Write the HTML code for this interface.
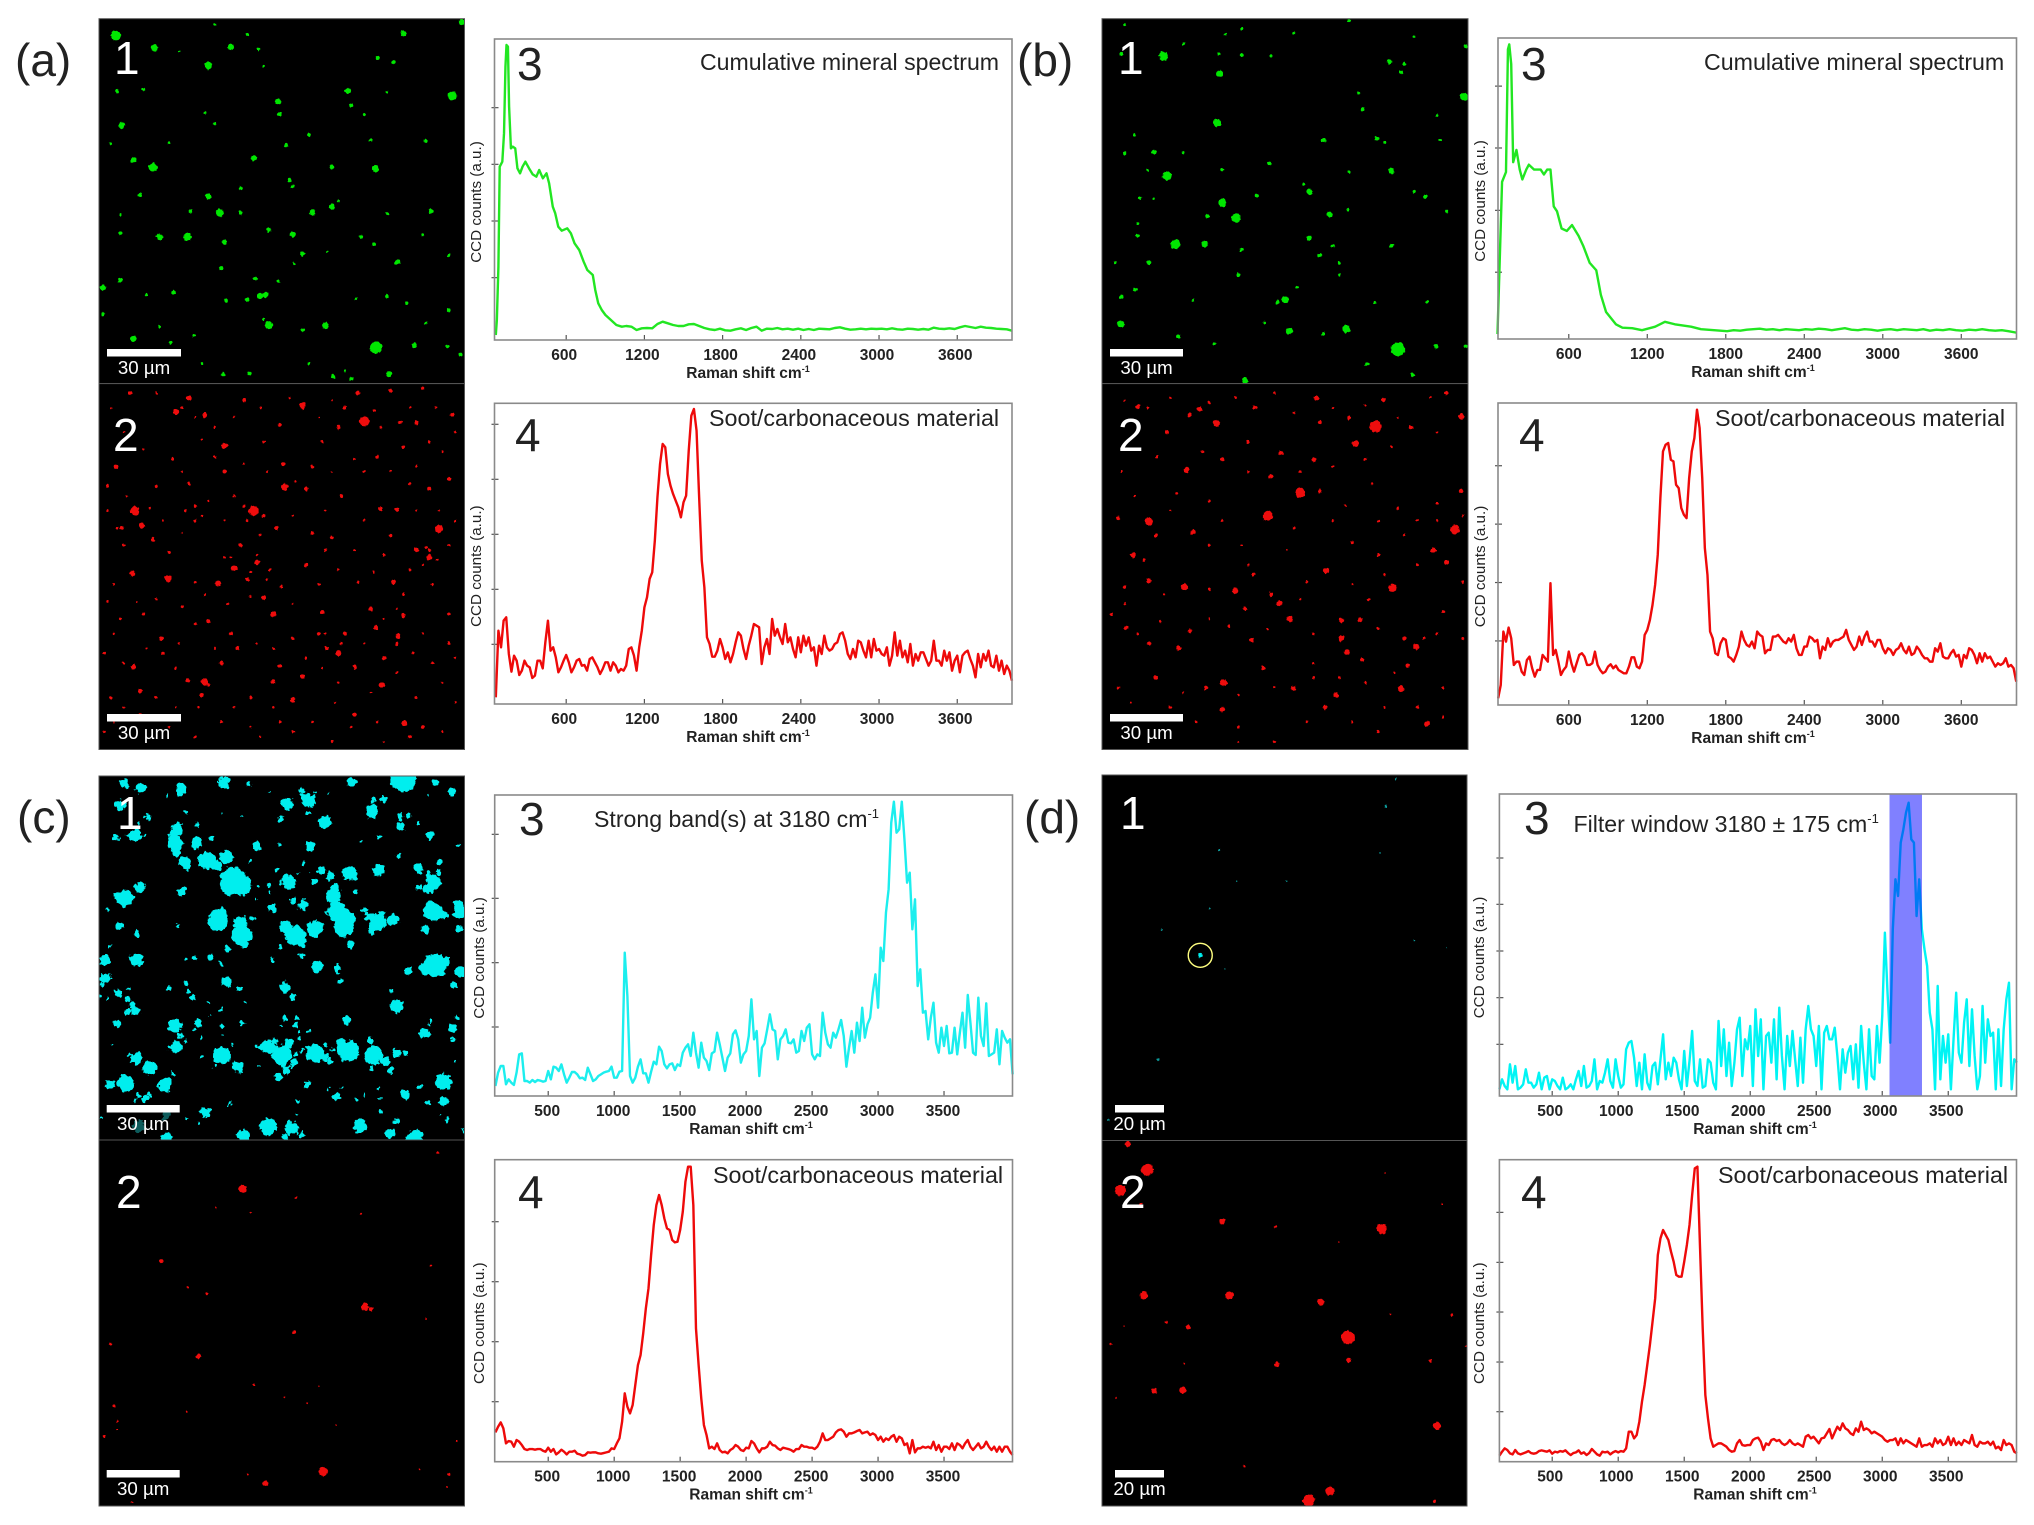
<!DOCTYPE html>
<html lang="en">
<head>
<meta charset="utf-8">
<title>Raman maps and spectra</title>
<style>
html,body{margin:0;padding:0;background:#fff;}
svg{display:block;font-family:"Liberation Sans",Arial,sans-serif;filter:blur(0.35px);}
</style>
</head>
<body>
<svg id="fig" xmlns="http://www.w3.org/2000/svg" width="2034" height="1525" viewBox="0 0 2034 1525">
<defs>
<filter id="rough-large" filterUnits="userSpaceOnUse" x="0" y="0" width="2034" height="1525">
<feTurbulence type="fractalNoise" baseFrequency="0.22" numOctaves="2" seed="4"/>
<feDisplacementMap in="SourceGraphic" scale="7" xChannelSelector="R" yChannelSelector="G"/>
</filter>
<filter id="rough-small" filterUnits="userSpaceOnUse" x="0" y="0" width="2034" height="1525">
<feTurbulence type="fractalNoise" baseFrequency="0.3" numOctaves="2" seed="9"/>
<feDisplacementMap in="SourceGraphic" scale="3" xChannelSelector="R" yChannelSelector="G"/>
</filter>
</defs>
<rect x="0" y="0" width="2034" height="1525" fill="#ffffff"/>
<text x="15" y="76" font-size="46" fill="#222">(a)</text>
<text x="1017" y="76" font-size="46" fill="#222">(b)</text>
<text x="17" y="833" font-size="46" fill="#222">(c)</text>
<text x="1024" y="833" font-size="46" fill="#222">(d)</text>
</svg>
<script>
/* ---------- spectrum data: counts are arbitrary units ---------- */
const xTicksAB=[600,1200,1800,2400,3000,3600];
const xTicksCD=[500,1000,1500,2000,2500,3000,3500];

const a3Shifts=[60,68,80,90,110,123,134,142,153,162,176,190,209,226,246,265,287,315,343,371,393,421,449,469,497,516,539,566,608,636,664,700,734,762,804,823,846,873,901,943,985,1027,1060,1100,1140,1180,1220,1260,1300,1340,1380,1420,1460,1500,1540,1580,1620,1660,1700,1740,1780,1820,1860,1900,1940,1980,2020,2060,2100,2140,2180,2220,2260,2300,2340,2380,2420,2460,2500,2540,2580,2620,2660,2700,2740,2780,2820,2860,2900,2940,2980,3020,3060,3100,3140,3180,3220,3260,3300,3340,3380,3420,3460,3500,3540,3580,3620,3660,3700,3740,3780,3820,3860,3900,3940,3980,4020];
const a3Counts=[15,60,220,520,535,620,820,885,880,700,575,580,575,515,500,520,535,515,497,490,510,485,500,470,400,380,340,328,335,320,290,270,235,210,195,150,110,90,75,60,45,40,42,40,30,35,36,35,48,55,50,45,42,42,47,48,42,36,32,30,34,29,28,32,35,30,36,40,28,34,33,36,32,34,31,34,30,33,30,34,33,32,36,38,34,31,32,34,32,34,33,34,32,35,32,31,34,33,31,33,31,37,34,33,35,33,38,42,39,36,40,37,36,34,33,32,28];
const a3YTicks=[697,527,357,187];

const a4Start=60;
const a4Step=20;
const a4Counts=[20,220,170,250,260,150,97,145,130,87,100,130,115,110,78,85,130,130,107,185,250,160,170,140,95,110,130,147,125,95,110,130,135,115,117,100,135,140,125,110,90,105,125,125,100,125,115,95,105,100,115,165,170,145,100,170,220,290,320,375,395,490,620,720,780,770,690,655,630,610,590,560,605,625,760,865,885,820,620,430,350,200,180,142,142,160,195,170,135,155,125,150,185,215,205,165,135,175,205,240,235,230,120,170,195,150,255,205,225,200,180,240,185,200,165,140,200,155,205,175,200,160,170,115,175,150,205,170,160,165,180,185,210,215,190,150,135,165,140,190,185,160,140,190,140,195,160,165,150,145,170,115,145,215,145,190,140,160,125,180,115,150,130,155,155,135,115,130,190,130,130,115,160,130,155,100,130,145,95,145,155,160,135,115,80,150,110,150,130,160,115,110,145,100,130,90,115,100,70];
const a4YTicks=[839,674,509,344,179];

const b3Shifts=[55,70,90,120,135,145,160,175,200,225,245,275,295,335,385,410,435,460,485,510,545,585,625,675,710,760,810,845,885,960,1010,1085,1160,1260,1335,1410,1535,1610,1760,1810,1860,1910,1960,2010,2060,2110,2160,2210,2260,2310,2360,2410,2460,2510,2560,2610,2660,2710,2760,2810,2860,2910,2960,3010,3060,3110,3160,3210,3260,3310,3360,3410,3460,3510,3560,3610,3660,3710,3760,3810,3860,3910,3960,4020];
const b3Counts=[10,140,320,340,590,600,560,360,385,345,325,345,355,345,345,335,345,345,270,260,225,220,232,210,190,155,140,90,55,30,23,22,18,25,35,30,25,20,17,16,18,17,19,20,21,19,20,18,20,19,18,20,19,21,20,18,20,22,19,18,20,19,17,19,20,18,20,19,18,20,17,19,18,20,18,17,19,18,20,18,17,18,16,13];
const b3YTicks=[515,389,262,136];

const b4Start=60;
const b4Step=20;
const b4Counts=[20,60,220,190,232,200,120,130,130,100,90,135,145,110,85,105,105,150,140,130,365,150,165,130,90,105,115,160,125,100,125,150,155,145,120,120,125,160,120,105,95,100,115,122,110,118,105,100,95,95,115,143,143,115,110,130,210,225,255,300,360,450,620,760,780,785,735,730,660,650,590,570,560,680,760,800,885,830,680,470,390,220,200,155,150,185,200,195,145,140,130,150,175,220,195,180,175,190,170,220,210,205,155,165,165,205,205,210,200,190,185,200,190,210,170,150,150,175,175,205,200,190,195,140,175,165,200,175,190,195,195,200,205,225,195,180,165,175,205,180,205,220,190,190,175,195,195,170,155,170,165,150,165,170,185,165,155,175,150,155,175,165,150,140,140,130,130,170,160,185,145,140,140,155,165,145,150,115,150,140,170,165,150,125,155,130,155,140,145,130,115,125,120,125,140,115,120,110,70];
const b4YTicks=[717,542,367,192];

const c3Start=100;
const c3Step=20;
const c3Counts=[30,70,90,90,35,50,40,33,70,125,128,45,45,40,48,42,48,46,43,45,75,50,88,85,75,95,65,40,55,72,72,65,53,55,48,85,65,45,50,60,65,70,73,75,88,55,55,73,75,430,300,60,40,55,88,110,68,68,40,73,103,95,148,135,95,83,95,98,78,95,90,130,145,155,120,190,130,85,160,115,105,78,128,133,190,155,115,75,115,128,185,197,170,100,125,135,180,290,170,195,60,145,158,200,245,200,195,110,170,180,200,160,158,170,130,135,195,165,205,215,125,110,125,120,250,190,155,145,190,175,200,228,180,88,145,195,130,220,165,265,175,215,235,310,365,265,445,405,550,620,820,883,790,800,883,770,640,670,500,590,330,380,250,255,170,235,280,160,130,205,150,210,128,130,205,125,190,250,145,303,220,130,123,295,180,150,278,120,125,130,200,95,195,175,160,170,65];
const c3YTicks=[785,593,400,207];

const c4Start=100;
const c4Step=20;
const c4Counts=[88,105,118,100,55,62,60,45,65,60,50,38,35,38,38,36,38,38,33,30,42,30,38,22,28,36,30,22,30,30,33,24,22,18,20,28,27,28,28,25,24,26,28,30,40,38,55,70,120,205,165,145,170,230,290,320,385,460,520,620,710,770,800,770,730,700,695,665,658,660,695,750,840,885,885,770,400,290,190,110,80,40,45,38,55,35,28,30,25,35,40,50,45,35,32,42,40,62,55,40,28,40,40,45,60,50,48,40,35,42,40,38,35,30,38,38,50,45,45,42,42,38,45,60,85,65,65,70,75,88,95,97,90,75,85,85,88,92,95,85,88,90,80,85,80,65,75,60,70,65,75,80,60,75,70,50,55,25,65,28,40,40,45,42,45,40,60,35,50,30,45,45,38,55,35,55,50,40,55,65,45,35,45,55,40,45,60,45,35,45,30,45,30,45,45,30,20];
const c4YTicks=[720,540,360,180];

const d3Start=100;
const d3Step=20;
const d3Counts=[20,50,30,20,95,40,90,20,25,35,80,40,40,25,35,70,20,55,60,20,50,45,30,20,55,20,25,35,20,50,75,30,90,25,30,45,110,20,45,40,70,110,45,25,110,60,25,35,140,160,165,115,30,100,20,125,40,20,90,100,35,110,185,50,100,60,115,100,50,20,135,30,105,195,45,30,110,25,30,110,100,40,20,225,90,200,60,160,30,100,200,235,60,170,140,210,30,260,120,230,20,180,190,100,230,50,265,120,20,180,90,195,110,30,175,40,200,270,200,180,90,210,20,190,210,170,170,205,120,20,140,70,130,150,50,155,25,210,100,20,200,60,50,210,100,240,490,310,160,500,650,600,760,800,850,880,770,760,540,650,500,440,390,250,200,20,330,50,180,100,185,20,170,310,130,100,220,290,90,260,120,20,60,270,100,230,180,190,20,200,30,200,290,340,20,110,100];
const d3YTicks=[714,575,435,295,155];
const d3FilterWindow=[3055,3301];

const d4Start=100;
const d4Step=20;
const d4Counts=[18,30,40,35,25,22,35,25,22,25,28,32,26,24,26,32,34,32,30,34,24,30,28,32,30,34,26,20,26,28,34,24,28,20,26,38,30,22,18,30,28,30,22,28,32,28,32,30,40,90,90,70,80,120,180,230,290,350,420,490,620,670,695,680,665,630,600,560,555,555,600,650,710,800,880,885,640,400,200,130,70,45,50,55,55,50,45,35,30,32,55,65,50,48,50,50,65,70,72,60,35,55,50,65,68,62,65,55,50,55,65,55,50,55,50,45,75,80,70,75,65,55,70,72,85,98,70,88,105,95,115,100,95,85,80,100,90,120,95,100,95,85,90,85,80,75,65,60,65,65,70,50,70,55,65,60,55,50,45,70,45,50,50,55,45,70,55,65,50,55,75,50,70,50,60,50,65,60,55,80,50,45,60,55,55,60,50,60,40,45,35,65,50,55,50,30,25];
const d4YTicks=[748,598,449,299,150];

/* ---------- particle maps: [field x, field y, radius] as located in each micrograph ---------- */
const a1Particles=[[178,72,5],[237,97,3.5],[355,96,3],[620,68,3],[320,133,4],[535,185,3],[695,195,4.5],[427,207,3],[187,255,3],[205,325,3],[235,340,4.5],[390,322,3],[577,343,3.5],[338,433,4],[370,433,2],[480,432,3],[510,421,3],[662,430,2.5],[245,482,3.5],[288,482,4],[345,493,2.5],[413,468,2.5],[450,477,3],[465,517,2.5],[555,482,2],[575,497,2],[613,533,2],[392,567,2],[158,585,3],[185,570,2.5],[267,595,2],[400,602,3],[408,600,3],[413,662,4],[380,610,2],[347,612,2],[500,663,3.5],[465,672,2],[578,708,6],[637,703,2.5],[205,690,3],[598,762,3],[383,760,2],[512,766,2],[540,772,2],[320,400,3],[293,430,2],[215,397,2],[185,437,1.5],[185,475,2],[440,295,2],[655,287,2],[570,285,1.5],[475,275,2],[430,232,2],[315,230,1.5],[330,252,1.5],[260,290,1.5],[170,292,1.5],[220,182,1.5],[180,185,2],[405,135,1.5],[380,70,1.5],[330,50,1.5],[275,105,1],[397,100,1.5],[580,118,2],[605,127,2],[540,215,2],[595,187,1.5],[560,233,1.5],[710,45,3],[510,340,2],[445,367,2],[450,380,2],[370,383,2],[520,410,1.5],[595,435,1.5],[650,478,1.5],[690,520,1.5],[610,535,2],[503,512,1.5],[340,547,2],[452,537,1.5],[428,573,1.5],[547,608,1.5],[595,603,1.5],[625,617,1.5],[690,632,2],[655,657,1.5],[688,706,2],[708,722,2],[262,697,1.5],[245,665,1.5],[298,683,1.5],[158,640,2],[225,600,1.5],[405,650,1.5],[310,740,1.5],[343,762,2],[475,740,1.5],[530,755,1.5]];
const a2Particles=[[270,838,3],[560,858,5],[465,825,3],[530,830,2],[345,908,3],[390,1040,5],[207,1040,4.5],[218,1070,3],[187,1075,2],[675,1077,4],[438,992,3.5],[470,995,2],[660,995,2],[690,975,2],[435,945,2],[360,1157,3],[258,1178,3.5],[335,1188,3],[395,1145,2.5],[660,1135,3],[203,1168,3],[405,1217,2],[420,1250,3],[570,1240,2],[620,1253,2.5],[495,1247,2],[578,1278,2.5],[612,1295,2.5],[610,1312,2],[520,1330,3],[502,1320,2],[248,1300,2],[315,1388,3.5],[288,1385,2],[215,1407,2.5],[205,1358,2.5],[587,1395,3],[622,1472,3],[450,1425,2.5],[465,1377,2],[430,1356,2],[420,1388,2.5],[545,1358,2],[370,1110,2],[345,1135,1.5],[310,1050,1.5],[300,1030,1.5],[235,1098,2],[180,1075,1.5],[165,990,1.5],[265,935,2],[178,950,2],[200,800,2],[290,810,2.5],[315,845,2.5],[375,815,2],[430,865,2],[465,830,2],[495,900,1.5],[520,870,2],[550,800,2],[600,795,2],[640,860,2],[615,860,2],[695,845,2],[650,790,1.5],[580,930,1.5],[630,985,1.5],[585,1035,2],[610,1037,2],[525,1010,1.5],[480,1085,1.5],[510,1095,1.5],[425,1075,2],[640,1120,2],[672,1140,1.5],[605,1185,2],[550,1185,1.5],[500,1120,1.5],[470,1150,2],[432,1195,1.5],[380,1180,2],[300,1185,1.5],[260,1125,1.5],[190,1110,1.5],[175,1190,1.5],[665,1190,1.5],[590,1130,1.5],[545,1120,1.5],[220,1250,1.5],[185,1260,1.5],[160,1330,1.5],[300,1270,1.5],[355,1290,2],[365,1320,2],[320,1265,2],[250,1330,1.5],[270,1360,1.5],[190,1350,1.5],[170,1420,1.5],[240,1420,1.5],[310,1415,2],[340,1350,2],[385,1420,1.5],[430,1470,1.5],[450,1490,1.5],[545,1455,2],[580,1470,1.5],[640,1420,1.5],[665,1350,1.5],[650,1290,1.5],[690,1310,1.5],[590,1340,2],[530,1290,2],[490,1290,1.5],[470,1340,1.5],[450,1300,1.5],[650,1480,1.5],[630,1500,2],[510,1510,1.5],[400,1500,1.5],[340,1470,1.5],[215,1455,1.5],[175,1470,1],[300,1500,1.5],[700,1430,1.5],[620,1210,1.5],[690,1250,1.5],[660,1120,1.5],[345,960,2],[405,900,1.5],[330,930,1.5],[290,985,1.5],[240,990,1.5],[480,950,1.5],[560,960,1.5],[620,910,1.5],[660,900,1.5],[300,1060,1.5],[285,1040,1.5],[415,1160,1.5],[380,1060,1.5],[360,1010,1.5],[600,1090,1.5],
[240,800,1.2],[280,830,1.3],[300,850,1.2],[330,870,1.2],[360,850,1.2],[400,830,1.2],[445,810,1.2],[490,850,1.2],[510,815,1.2],[575,835,1.4],[585,870,1.2],[630,830,1.2],[670,830,1.2],[700,880,1.2],[680,920,1.2],[640,950,1.2],[600,960,1.2],[545,935,1.2],[510,960,1.2],[455,980,1.2],[410,960,1.2],[375,945,1.2],[310,895,1.2],[280,960,1.2],[220,915,1.2],[190,880,1.2],[170,830,1.2],[165,1040,1.2],[195,1010,1.2],[230,1035,1.2],[250,1060,1.2],[280,1085,1.2],[320,1020,1.2],[345,1060,1.2],[375,1030,1.4],[405,1050,1.4],[400,1090,1.2],[450,1050,1.2],[500,1040,1.2],[560,1060,1.2],[640,1040,1.2],[675,1040,1.2],[700,1060,1.2],[690,1110,1.2],[630,1160,1.2],[575,1165,1.2],[520,1160,1.2],[490,1190,1.2],[450,1230,1.2],[385,1215,1.2],[350,1230,1.2],[315,1210,1.2],[280,1235,1.2],[240,1220,1.2],[210,1225,1.2],[165,1225,1.2],[175,1290,1.2],[225,1320,1.2],[275,1310,1.2],[330,1320,1.2],[395,1310,1.2],[420,1320,1.2],[495,1360,1.2],[520,1390,1.2],[560,1310,1.2],[635,1330,1.2],[700,1340,1.2],[680,1390,1.2],[610,1370,1.2],[570,1410,1.2],[515,1430,1.2],[480,1470,1.2],[420,1440,1.2],[360,1440,1.2],[320,1395,1.6],[305,1440,1.2],[270,1440,1.2],[190,1440,1.2],[160,1490,1.2],[260,1480,1.2],[385,1480,1.2],[590,1510,1.2],[680,1490,1.2],[540,1480,1.2],[395,1130,1.3],[385,1165,1.3],[355,1135,1.3],[410,1180,1.2],[655,1115,1.3],[650,1150,1.2],[610,1240,1.2],[590,1260,1.2],[500,1290,1.2],[525,1310,1.3]];
const b1Particles=[[230,114,4.5],[316,150,3.5],[350,112,2],[395,114,1.5],[577,126,2.5],[600,130,1.5],[595,147,2],[615,75,1.5],[692,197,4],[536,222,2],[312,250,4],[476,285,2.5],[558,282,2],[392,332,2],[235,358,4.5],[580,348,3],[320,413,4],[341,444,4.5],[297,440,2.5],[373,398,2],[454,390,3],[485,437,3],[513,427,1.5],[632,400,2],[248,497,5],[293,497,3.5],[350,508,2],[454,485,2.5],[580,500,2],[345,560,2],[165,605,2],[186,590,2],[417,610,3.5],[405,615,2],[435,585,1.5],[164,660,3.5],[423,674,3.5],[511,670,4],[590,711,7],[649,705,2.5],[695,705,2],[543,741,2],[613,763,2],[355,775,3],[252,685,2],[308,700,1.5],[385,657,1.5],[475,680,1.5],[500,535,1.5],[470,520,2],[207,535,2],[190,480,2],[190,455,1.5],[215,405,1.5],[193,403,1.5],[260,310,1.5],[215,310,2.5],[205,347,1.5],[170,312,1.5],[185,275,1.5],[320,345,1.5],[515,42,1.5],[430,68,1.5],[350,58,1.5],[325,70,1.5],[170,50,1.5],[260,90,1.5],[165,110,2],[315,110,1.5],[695,95,2],[530,190,1.5],[650,235,1.5],[655,285,1.5],[570,290,1.5],[515,350,1.5],[445,375,1.5],[615,390,1.5],[665,430,1.5],[490,500,1.5],[555,617,1.5],[635,615,1.5],[275,612,1.5],[500,560,1.5],[155,535,1.5]];
const b2Particles=[[556,868,6],[311,862,3.5],[285,833,2.5],[270,845,2.5],[465,810,2.5],[525,903,3.5],[410,922,2.5],[461,936,2.5],[265,957,3],[395,970,2.5],[440,1003,5],[390,1050,5],[207,1062,4],[275,1083,2.5],[218,1090,2],[678,1078,4.5],[645,1120,2.5],[183,1130,2.5],[480,1162,3],[368,1170,2],[207,1183,2.5],[262,1195,3.5],[340,1203,3],[408,1228,3],[582,1197,4],[424,1260,3],[503,1263,2.5],[532,1262,2.5],[172,1278,2],[503,1300,3],[512,1328,3],[618,1317,3],[253,1320,2.5],[365,1303,2.5],[207,1310,2],[383,1360,2.5],[322,1390,3.5],[295,1400,2],[218,1380,2],[595,1402,3],[430,1402,2.5],[495,1415,2.5],[320,1445,2.5],[478,1440,2],[635,1474,3],[535,1343,2],[605,1355,2],[687,1000,2],[665,1145,2],[568,814,2],[190,828,2],[235,880,2],[320,935,2],[370,830,2],[515,850,2],[470,860,2],[610,870,2],[665,800,2],[688,848,3],[550,985,1.5],[470,1000,2],[490,1060,1.5],[520,1105,1.5],[560,1130,1.5],[590,1035,1.5],[620,1060,1.5],[650,1025,1.5],[300,1110,1.5],[250,1005,1.5],[160,1055,2],[150,1250,1.5],[170,1195,1.5],[225,1265,1.5],[270,1285,2],[355,1240,2],[330,1275,1.5],[395,1210,2],[450,1185,1.5],[545,1220,1.5],[600,1300,2],[630,1300,1.5],[660,1245,1.5],[690,1185,1.5],[460,1350,1.5],[540,1390,1.5],[660,1400,1.5],[690,1300,1.5],[160,1400,1.5],[240,1440,1.5],[345,1480,1.5],[400,1510,1.5],[560,1490,1.5],[620,1440,1.5],[500,1380,1.5],[360,1150,1.5],[430,1075,1.5],[200,1140,1.5],[300,1020,1.5],[360,900,1.5],
[170,815,1.3],[205,830,1.3],[240,810,1.2],[300,820,1.2],[340,810,1.2],[400,800,1.2],[430,840,1.3],[490,830,1.2],[540,825,1.3],[590,850,1.3],[640,810,1.2],[650,880,1.2],[580,910,1.2],[540,935,1.2],[490,950,1.2],[440,960,1.3],[360,960,1.2],[290,920,1.2],[220,930,1.3],[165,960,1.2],[185,1010,1.2],[240,1040,1.2],[320,1060,1.3],[350,1110,1.2],[420,1120,1.2],[510,1030,1.2],[560,1060,1.3],[600,1090,1.2],[650,1060,1.2],[690,1050,1.2],[620,1150,1.3],[570,1170,1.2],[520,1190,1.2],[440,1220,1.2],[300,1200,1.3],[230,1210,1.2],[170,1230,1.2],[190,1290,1.2],[300,1260,1.2],[390,1280,1.2],[460,1290,1.2],[560,1280,1.3],[650,1290,1.2],[585,1370,1.2],[460,1380,1.3],[400,1400,1.2],[345,1415,1.3],[260,1410,1.2],[180,1430,1.2],[280,1470,1.2],[450,1470,1.2],[520,1470,1.2],[660,1460,1.2],[345,1510,1.2],[570,1440,1.2]];
const c1Particles=[[88,35,14],[138,48,16],[258,50,16],[385,30,18],[460,35,8],[575,95,18],[640,85,22],[620,55,8],[690,150,20],[770,30,15],[925,20,40],[1020,30,10],[1070,58,13],[835,85,8],[865,82,10],[830,118,20],[915,135,10],[940,130,10],[915,165,12],[1005,190,12],[970,152,6],[852,195,8],[75,100,15],[85,100,10],[160,135,10],[120,190,18],[62,198,10],[305,158,7],[245,175,18],[240,215,22],[245,245,12],[270,270,17],[305,210,15],[352,200,7],[335,265,25],[395,255,20],[360,280,18],[415,325,40],[440,340,30],[400,350,20],[485,222,13],[645,225,15],[910,250,9],[1035,270,8],[970,290,14],[850,295,17],[765,305,22],[680,295,12],[705,310,10],[660,330,10],[580,330,22],[545,295,6],[1015,330,22],[1000,350,16],[970,345,10],[90,380,25],[70,375,15],[135,346,16],[258,358,14],[72,462,12],[125,485,10],[38,415,5],[248,462,7],[370,445,30],[345,450,10],[440,490,30],[438,455,22],[398,530,12],[532,408,12],[625,400,15],[595,385,10],[715,375,22],[725,420,30],[745,465,30],[780,360,7],[810,415,8],[850,450,25],[835,465,12],[895,445,18],[1015,420,28],[1040,430,12],[990,472,12],[1095,420,20],[1090,470,12],[570,465,20],[600,490,30],[620,510,15],[660,470,25],[765,517,12],[555,525,8],[620,552,9],[530,565,7],[665,585,18],[725,590,12],[125,565,20],[30,565,17],[30,620,15],[345,558,10],[270,563,6],[300,560,7],[375,575,6],[1020,580,35],[990,590,18],[1050,570,15],[940,597,12],[1097,600,17],[1075,640,10],[395,630,16],[432,652,7],[222,650,7],[275,635,8],[280,660,5],[295,678,9],[570,645,15],[595,675,10],[738,630,8],[905,703,20],[888,658,5],[70,665,10],[100,680,8],[110,700,10],[122,718,14],[378,715,7],[65,755,12],[240,763,20],[255,790,8],[245,825,17],[310,755,12],[440,755,9],[380,765,6],[295,770,5],[755,745,12],[570,740,8],[1085,740,9],[1072,770,13],[988,785,15],[1005,748,6],[380,850,26],[430,885,18],[125,860,18],[165,888,22],[90,935,25],[45,938,15],[210,940,20],[235,905,6],[520,825,20],[560,850,30],[580,815,15],[600,760,8],[612,800,6],[620,840,6],[600,870,10],[575,895,12],[550,915,12],[660,845,28],[690,855,12],[760,838,32],[740,815,15],[825,805,12],[835,850,28],[870,870,14],[885,895,10],[905,845,12],[1045,930,25],[635,937,10],[725,975,10],[700,955,5],[930,967,14],[975,945,8],[1000,993,9],[1045,990,15],[605,990,7],[330,1022,16],[520,1065,26],[590,1070,20],[445,1095,20],[570,1095,10],[620,1090,10],[795,1063,20],[885,1085,16],[905,1048,10],[215,1098,15],[150,980,10],[405,995,5],[785,985,5],[1055,1045,6],[960,1100,25],[1105,1078,4],[310,1055,5],[275,1040,4],[20,1040,4],[15,675,7],[440,130,5],[380,125,4],[555,142,9],[270,120,5],[215,70,4],[1000,65,4],[800,210,5],[1090,222,4],[555,220,6],[465,268,4],[625,275,5],[520,340,4],[490,345,5],[485,380,3],[525,360,4],[45,525,5],[455,690,4],[340,690,4],[345,735,3],[50,815,4],[415,820,5],[320,800,4],[385,790,3],[320,855,5],[360,885,4],[495,880,3],[1080,870,4],[1075,805,6],[850,950,3],[855,980,4],[810,970,3],[740,945,3],[605,1030,3],[860,1020,5],[1040,1030,3],
[605,740,5],[610,780,6],[625,830,5],[590,880,6],[565,880,8],[600,850,5],[500,825,8],[485,825,6],[540,810,10],[930,845,6],[690,820,5],[715,835,6],[705,870,9],[830,890,5],[1000,760,4],[1070,800,5],[640,780,4],[560,760,4],[35,680,5],[100,650,5],[60,660,5],[100,720,8],[270,810,5],[225,830,6],[130,975,8],[120,985,5],[165,970,7],[50,620,4],[22,640,6],[130,150,4],[150,190,6],[100,190,6],[130,55,6],[255,65,8],[395,45,7],[660,95,6],[640,120,6],[620,70,5],[700,65,4],[660,60,4],[520,60,3],[665,300,4],[700,320,6],[610,305,4],[645,305,3],[665,330,5],[625,380,4],[630,410,5],[720,350,14],[765,440,18],[715,410,15],[745,430,22],[860,430,12],[820,435,14],[830,480,10],[1005,405,16],[1050,430,10],[420,450,8],[470,440,8],[445,510,16],[380,420,14],[1090,400,14],[1000,310,10],[1030,300,8],[275,285,10],[235,195,16],[250,160,10],[300,225,10],[130,868,6],[105,850,5]];
const c1DimParticles=[[215,1030,14],[130,1065,18]];
const c2Particles=[[373,879,4],[248,1027,2],[318,1093,1.5],[288,1080,1],[561,1120,4],[570,1125,2],[452,1172,2],[305,1222,2.5],[170,1196,1.5],[175,1323,1.5],[180,1355,1],[160,1385,1.5],[408,1481,3],[497,1458,4.5],[690,1463,1.5],[673,805,1.5],[555,930,1],[455,897,1],[385,928,1],[332,918,1],[662,1037,1],[655,1145,1],[490,1283,1],[437,1305,1],[472,1318,1],[287,1335,1],[390,1280,1],[180,1372,1],[687,1490,1],[645,1453,1],[203,1520,1],[380,1463,1],[517,1362,1],[703,1395,1]];
const d1Particles=[[286,400,2.5],[315,184,1.5],[571,94,1.5],[221,614,1.5],[227,348,1],[586,38,1],[300,304,1],[342,249,0.7],[419,247,0.7],[323,427,0.8],[145,738,1],[562,190,0.7],[615,369,0.7],[665,384,0.7]];
const d1Marker=[286,400];
const d2Particles=[[175,787,3],[205,840,6],[163,883,5.5],[320,946,3],[402,957,1.5],[565,961,5],[499,988,1],[199,1098,4],[331,1097,4],[471,1112,3.5],[513,1184,6.5],[234,1153,1.5],[267,1163,2.5],[169,1162,1],[404,1239,2.5],[514,1231,2.5],[262,1237,1],[640,1232,1.5],[215,1294,3],[259,1292,3.5],[650,1366,4],[353,1448,1],[157,1308,1],[148,1197,1],[485,1499,4.5],[453,1519,6],[646,1520,1.5],[673,1137,1.5],[578,1136,0.8],[657,910,1],[570,846,0.8],[695,1202,1],[195,910,1.5]];

/* ---------- drawing ---------- */
const NS='http://www.w3.org/2000/svg';
const fig=document.getElementById('fig');
function make(tag,attrs,parent){
  const el=document.createElementNS(NS,tag);
  for(const k in attrs){el.setAttribute(k,attrs[k]);}
  (parent||fig).appendChild(el);
  return el;
}
function linear(d0,d1,r0,r1){return v=>r0+(v-d0)*(r1-r0)/(d1-d0);}
function gridShifts(start,step,counts){return counts.map((_,i)=>start+i*step);}

function drawSpectrum(p){
  const g=make('g',{});
  
  
  const x=linear(p.xDomain[0],p.xDomain[1],p.left,p.right);
  const y=linear(0,p.yMax,p.bottom,p.top);
  const bg=make('rect',{x:p.left,y:p.top,width:p.right-p.left,height:p.bottom-p.top,fill:'#fff'},g);
  
  
  p.xTicks.forEach(t=>{
    const tick=make('line',{x1:x(t),x2:x(t),y1:p.bottom-5,y2:p.bottom,stroke:'#555','stroke-width':1.2},g);
    
    
    const label=make('text',{x:x(t)+p.labelDx,y:p.bottom+20,'text-anchor':'middle','font-size':15.5,'font-weight':'bold',fill:'#222'},g);
    label.textContent=String(t);
    
    
  });
  p.yTicks.forEach(t=>{
    const tick=make('line',{x1:p.left-3,x2:p.left+4,y1:y(t),y2:y(t),stroke:'#555','stroke-width':1.2},g);
    
    
  });
  const d=p.shifts.map((s,i)=>(i?'L':'M')+x(s).toFixed(2)+' '+y(p.counts[i]).toFixed(2)).join('');
  const line=make('path',{d:d,fill:'none',stroke:p.color,'stroke-width':2.4,'stroke-linejoin':'round'},g);
  
  
  if(p.window){
    const w=make('rect',{x:x(p.window[0]),y:p.top,width:x(p.window[1])-x(p.window[0]),height:p.bottom-p.top,fill:'#8080ff',style:'mix-blend-mode:multiply'},g);
    
    
  }
  const frame=make('rect',{x:p.left,y:p.top,width:p.right-p.left,height:p.bottom-p.top,fill:'none',stroke:'#8a8a8a','stroke-width':1.6},g);
  
  
  const xt=make('text',{x:p.xTitleX,y:p.bottom+38,'text-anchor':'middle','font-size':15.5,'font-weight':'bold',fill:'#222'},g);
  
  
  xt.appendChild(document.createTextNode('Raman shift cm'));
  const sup=make('tspan',{dy:-6,'font-size':9},xt);
  sup.textContent='-1';
  const yc=(p.top+p.bottom)/2+12.5;
  const yt=make('text',{x:p.yTitleX,y:yc,'text-anchor':'middle','font-size':15.2,fill:'#222',transform:'rotate(-90 '+p.yTitleX+' '+yc+')'},g);
  yt.textContent='CCD counts (a.u.)';
  
  
  const num=make('text',{x:p.numX,y:p.numY,'font-size':46,fill:'#222'},g);
  num.textContent=p.num;
  
  
  const title=make('text',{x:p.titleX,y:p.titleY,'font-size':p.titleSize||23.3,fill:'#222'},g);
  
  
  title.appendChild(document.createTextNode(p.title));
  if(p.titleSup){
    const s=make('tspan',{dy:-9,'font-size':13},title);
    s.textContent=p.titleSup;
  }
}

function drawMap(m){
  const g=make('g',{});
  
  
  const bg=make('rect',{x:m.left,y:m.top,width:m.right-m.left,height:m.bottom-m.top,fill:'#000'},g);
  
  
  const x=linear(m.fieldX[0],m.fieldX[1],m.left,m.right);
  const y=linear(m.fieldY[0],m.fieldY[1],m.top,m.bottom);
  const clipId='clip-'+m.name;
  const clip=make('clipPath',{id:clipId},g);
  make('rect',{x:m.left,y:m.top,width:m.right-m.left,height:m.bottom-m.top},clip);
  const clipped=make('g',{'clip-path':'url(#'+clipId+')'},g);
  const spots=make('g',{filter:'url(#'+m.rough+')'},clipped);
  
  
  (m.dim||[]).forEach(p=>{
    const c=make('circle',{cx:x(p[0]),cy:y(p[1]),r:p[2]*m.rScale,fill:'#0a5c5c'},spots);
    
    
  });
  m.particles.forEach(p=>{
    const c=make('circle',{cx:x(p[0]),cy:y(p[1]),r:p[2]*m.rScale,fill:m.color},spots);
    if(m.faint&&p[2]<2){c.setAttribute('fill','#0a9a9a');}
    
    
  });
  if(m.marker){
    const e=make('ellipse',{cx:x(m.marker[0]),cy:y(m.marker[1]),rx:12,ry:12,fill:'none',stroke:'#ffff80','stroke-width':1.4},g);
    
    
  }
  const frame=make('rect',{x:m.left,y:m.top,width:m.right-m.left,height:m.bottom-m.top,fill:'none',stroke:'#555','stroke-width':1},g);
  
  
  const bar=make('rect',{x:m.barX,y:m.barY,width:m.barW,height:7.5,fill:'#fff'},g);
  
  
  const bt=make('text',{x:m.barX+m.barW/2,y:m.barY+25,'text-anchor':'middle','font-size':18.7,fill:'#fff'},g);
  bt.textContent=m.barLabel;
  
  
  const num=make('text',{x:m.numX,y:m.numY,'font-size':46,fill:'#fff'},g);
  num.textContent=m.num;
  
  
}

const GREEN='#00e600',RED='#ee0a0a',CYAN='#00eeee';
const fy1=[38,781],fy2=[781,1526];
[
 {name:'a1',left:99,right:464.5,top:18.7,bottom:383.6,fieldX:[152,714],fieldY:fy1,rScale:1,rough:'rough-small',color:GREEN,particles:a1Particles,barX:107,barY:349,barW:74,barLabel:'30 µm',num:'1',numX:114,numY:74},
 {name:'a2',left:99,right:464.5,top:383.6,bottom:749.5,fieldX:[152,714],fieldY:fy2,rScale:1,rough:'rough-small',color:RED,particles:a2Particles,barX:107,barY:714,barW:74,barLabel:'30 µm',num:'2',numX:113,numY:451},
 {name:'b1',left:1102,right:1468,top:18.7,bottom:383.6,fieldX:[135,698],fieldY:fy1,rScale:1,rough:'rough-small',color:GREEN,particles:b1Particles,barX:1110,barY:349,barW:73,barLabel:'30 µm',num:'1',numX:1118,numY:74},
 {name:'b2',left:1102,right:1468,top:383.6,bottom:749.5,fieldX:[135,698],fieldY:fy2,rScale:1,rough:'rough-small',color:RED,particles:b2Particles,barX:1110,barY:714,barW:73,barLabel:'30 µm',num:'2',numX:1118,numY:451},
 {name:'c1',left:99,right:464.5,top:776,bottom:1140,fieldX:[12,1108],fieldY:[12,1105],rScale:1/3,rough:'rough-large',color:CYAN,particles:c1Particles,dim:c1DimParticles,barX:106.7,barY:1105,barW:73,barLabel:'30 µm',num:'1',numX:117,numY:829},
 {name:'c2',left:99,right:464.5,top:1140,bottom:1506,fieldX:[152,714],fieldY:[779,1528],rScale:1,rough:'rough-small',color:RED,particles:c2Particles,barX:106.7,barY:1470,barW:73,barLabel:'30 µm',num:'2',numX:116,numY:1208},
 {name:'d1',left:1102,right:1467,top:775,bottom:1140.5,fieldX:[135,696],fieldY:[30,780],rScale:1,rough:'rough-small',color:CYAN,faint:true,particles:d1Particles,marker:d1Marker,barX:1115,barY:1105,barW:49,barLabel:'20 µm',num:'1',numX:1120,numY:829},
 {name:'d2',left:1102,right:1467,top:1140.5,bottom:1506,fieldX:[135,696],fieldY:[780,1530],rScale:1,rough:'rough-small',color:RED,particles:d2Particles,barX:1115,barY:1470,barW:49,barLabel:'20 µm',num:'2',numX:1120,numY:1208}
].forEach(drawMap);

const domA=[50,4020],domB=[59,4022],domC=[94.4,4019],domD=[100,4017];
[
 {name:'a3',left:494.5,right:1012,top:39,bottom:340,xDomain:domA,yMax:903,xTicks:xTicksAB,yTicks:a3YTicks,shifts:a3Shifts,counts:a3Counts,color:'#22e622',labelDx:-2,xTitleX:748,yTitleX:481,num:'3',numX:517,numY:80,title:'Cumulative mineral spectrum',titleSize:23.1,titleX:700,titleY:70},
 {name:'a4',left:494.5,right:1012,top:403.3,bottom:704,xDomain:domA,yMax:902,xTicks:xTicksAB,yTicks:a4YTicks,shifts:gridShifts(a4Start,a4Step,a4Counts),counts:a4Counts,color:'#ee0a0a',labelDx:-2,xTitleX:748,yTitleX:481,num:'4',numX:515,numY:451,title:'Soot/carbonaceous material',titleX:709,titleY:426},
 {name:'b3',left:1498,right:2016.5,top:38,bottom:339,xDomain:domB,yMax:613,xTicks:xTicksAB,yTicks:b3YTicks,shifts:b3Shifts,counts:b3Counts,color:'#22e622',labelDx:0,xTitleX:1753,yTitleX:1485,num:'3',numX:1521,numY:80,title:'Cumulative mineral spectrum',titleSize:23.2,titleX:1704,titleY:70},
 {name:'b4',left:1498,right:2016.5,top:403,bottom:705,xDomain:domB,yMax:905,xTicks:xTicksAB,yTicks:b4YTicks,shifts:gridShifts(b4Start,b4Step,b4Counts),counts:b4Counts,color:'#ee0a0a',labelDx:0,xTitleX:1753,yTitleX:1485,num:'4',numX:1519,numY:451,title:'Soot/carbonaceous material',titleX:1715,titleY:426},
 {name:'c3',left:494.7,right:1012.5,top:795,bottom:1096,xDomain:domC,yMax:903,xTicks:xTicksCD,yTicks:c3YTicks,shifts:gridShifts(c3Start,c3Step,c3Counts),counts:c3Counts,color:'#1ceeee',labelDx:-1,xTitleX:751,yTitleX:484,num:'3',numX:519,numY:835,title:'Strong band(s) at 3180 cm',titleSup:'-1',titleSize:23.1,titleX:594,titleY:827},
 {name:'c4',left:494.7,right:1012.5,top:1159.7,bottom:1461.7,xDomain:domC,yMax:906,xTicks:xTicksCD,yTicks:c4YTicks,shifts:gridShifts(c4Start,c4Step,c4Counts),counts:c4Counts,color:'#ee0a0a',labelDx:-1,xTitleX:751,yTitleX:484,num:'4',numX:518,numY:1208,title:'Soot/carbonaceous material',titleX:713,titleY:1183},
 {name:'d3',left:1499.4,right:2016.5,top:794,bottom:1096,xDomain:domD,yMax:906,xTicks:xTicksCD,yTicks:d3YTicks,shifts:gridShifts(d3Start,d3Step,d3Counts),counts:d3Counts,color:'#00f4f4',window:d3FilterWindow,labelDx:-2,xTitleX:1755,yTitleX:1484,num:'3',numX:1524,numY:834,title:'Filter window 3180 ± 175 cm',titleSup:'-1',titleSize:23.1,titleX:1573.5,titleY:832},
 {name:'d4',left:1499.4,right:2016.5,top:1159.7,bottom:1461.7,xDomain:domD,yMax:906,xTicks:xTicksCD,yTicks:d4YTicks,shifts:gridShifts(d4Start,d4Step,d4Counts),counts:d4Counts,color:'#ee0a0a',labelDx:-2,xTitleX:1755,yTitleX:1484,num:'4',numX:1521,numY:1208,title:'Soot/carbonaceous material',titleX:1718,titleY:1183}
].forEach(drawSpectrum);
</script>
</body>
</html>
